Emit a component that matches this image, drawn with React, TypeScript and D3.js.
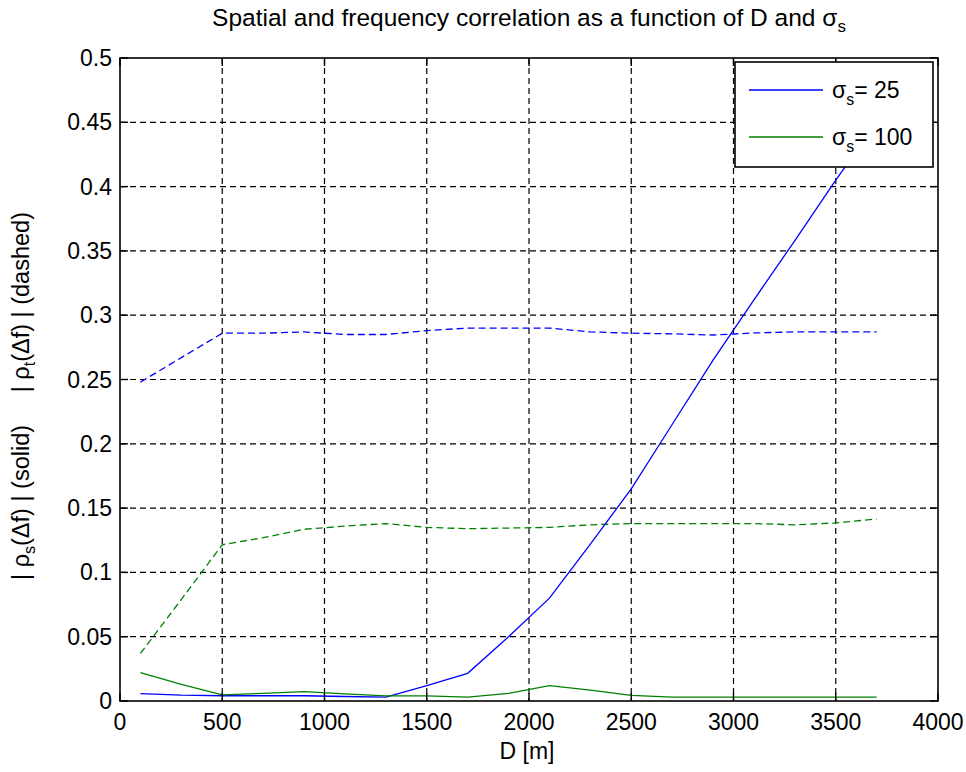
import React from "react";
import * as d3 from "d3";

const distances = [100, 300, 500, 700, 900, 1100, 1300, 1500, 1700, 1900, 2100, 2300, 2500, 2700, 2900, 3100, 3300, 3500, 3700];
const blueSolid = [0.0057, 0.0045, 0.0041, 0.0041, 0.0041, 0.0035, 0.003, 0.012, 0.0215, 0.05, 0.08, 0.122, 0.165, 0.215, 0.265, 0.312, 0.358, 0.405, 0.45];
const blueDashed = [0.248, 0.267, 0.286, 0.286, 0.287, 0.285, 0.285, 0.288, 0.29, 0.29, 0.29, 0.287, 0.286, 0.2855, 0.2846, 0.2862, 0.287, 0.287, 0.287];
const greenSolid = [0.022, 0.013, 0.0047, 0.006, 0.0073, 0.0055, 0.004, 0.004, 0.003, 0.006, 0.012, 0.0085, 0.0044, 0.003, 0.003, 0.003, 0.003, 0.003, 0.003];
const greenDashed = [0.037, 0.079, 0.1215, 0.127, 0.1335, 0.136, 0.138, 0.135, 0.134, 0.1345, 0.135, 0.137, 0.138, 0.138, 0.138, 0.138, 0.137, 0.1385, 0.1415];
const xTicks = [0, 500, 1000, 1500, 2000, 2500, 3000, 3500, 4000];
const yTicks = [0, 0.05, 0.1, 0.15, 0.2, 0.25, 0.3, 0.35, 0.4, 0.45, 0.5];
const legendLabels = ["25", "100"];

const W = 966, H = 772;
const L = 120, R = 938, T = 58, B = 701;
const FONT = "'Liberation Sans', Arial, sans-serif";
const BLUE = "#0000ff";
const GREEN = "#008000";

export default function App() {
  const x = d3.scaleLinear().domain([0, 4000]).range([L, R]);
  const y = d3.scaleLinear().domain([0, 0.5]).range([B, T]);
  const line = (vals: number[]) =>
    d3.line<number>().x((_, i) => x(distances[i])).y((v) => y(v))(vals) || "";

  const series = [
    { vals: blueDashed, color: BLUE, dash: "7,4" },
    { vals: greenDashed, color: GREEN, dash: "7,4" },
    { vals: blueSolid, color: BLUE, dash: undefined },
    { vals: greenSolid, color: GREEN, dash: undefined },
  ];

  const fmtY = (v: number) => (v === 0 ? "0" : String(+v.toFixed(2)));

  return (
    <div style={{ position: "absolute", left: 0, top: 0 }}>
      <svg width={W} height={H} style={{ display: "block", background: "#fff" }} fontFamily={FONT}>
        <rect x={0} y={0} width={W} height={H} fill="#fff" />
        {xTicks.slice(1, -1).map((t) => (
          <line key={"gx" + t} x1={x(t)} x2={x(t)} y1={T} y2={B} stroke="#000" strokeWidth={1.2} strokeDasharray="6,4" />
        ))}
        {yTicks.slice(1, -1).map((t) => (
          <line key={"gy" + t} x1={L} x2={R} y1={y(t)} y2={y(t)} stroke="#000" strokeWidth={1.2} strokeDasharray="6,4" />
        ))}
        {series.map((s, i) => (
          <path key={i} d={line(s.vals)} fill="none" stroke={s.color} strokeWidth={1.3} strokeDasharray={s.dash} />
        ))}
        {xTicks.map((t) => (
          <g key={"tx" + t}>
            <line x1={x(t)} x2={x(t)} y1={B} y2={B - 8} stroke="#000" strokeWidth={1.4} />
            <line x1={x(t)} x2={x(t)} y1={T} y2={T + 8} stroke="#000" strokeWidth={1.4} />
            <text x={x(t)} y={B + 29} fontSize={23} textAnchor="middle" fill="#000">{t}</text>
          </g>
        ))}
        {yTicks.map((t) => (
          <g key={"ty" + t}>
            <line x1={L} x2={L + 8} y1={y(t)} y2={y(t)} stroke="#000" strokeWidth={1.4} />
            <line x1={R} x2={R - 8} y1={y(t)} y2={y(t)} stroke="#000" strokeWidth={1.4} />
            <text x={L - 8} y={y(t) + 8} fontSize={23} textAnchor="end" fill="#000">{fmtY(t)}</text>
          </g>
        ))}
        <rect x={L} y={T} width={R - L} height={B - T} fill="none" stroke="#000" strokeWidth={1.6} />
        <rect x={735} y={62} width={198} height={105} fill="#fff" stroke="#000" strokeWidth={1.6} />
        {legendLabels.map((lab, i) => {
          const ly = 90 + i * 47;
          return (
            <g key={lab}>
              <line x1={749} x2={823} y1={ly} y2={ly} stroke={i === 0 ? BLUE : GREEN} strokeWidth={1.4} />
              <text x={832} y={ly + 8} fontSize={23} fill="#000">
                σ<tspan fontSize={16} dy={7}>s</tspan><tspan dy={-7}>= {lab}</tspan>
              </text>
            </g>
          );
        })}
        <text x={529} y={26} fontSize={24.5} textAnchor="middle" fill="#000">
          Spatial and frequency correlation as a function of D and σ<tspan fontSize={17} dy={6}>s</tspan>
        </text>
        <text x={527} y={759} fontSize={23} textAnchor="middle" fill="#000">D [m]</text>
        <text transform={`translate(29,${396}) rotate(-90)`} fontSize={23.5} textAnchor="middle" fill="#000" style={{ whiteSpace: "pre" }}>
          | ρ<tspan fontSize={16} dy={6}>s</tspan><tspan dy={-6}>(Δf) | (solid)     | ρ</tspan><tspan fontSize={16} dy={6}>t</tspan><tspan dy={-6}>(Δf) | (dashed)</tspan>
        </text>
      </svg>
    </div>
  );
}
